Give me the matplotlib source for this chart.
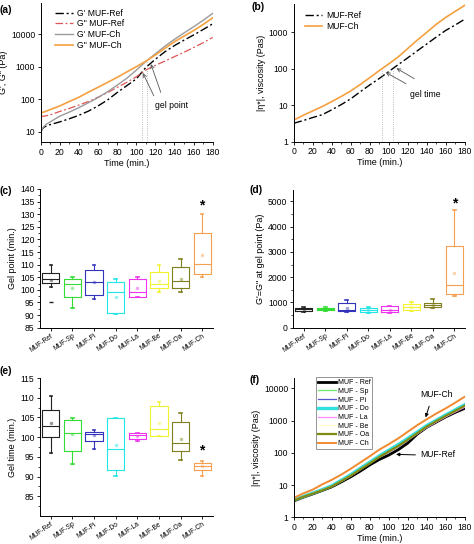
import matplotlib
matplotlib.use('Agg')
import matplotlib.pyplot as plt
from matplotlib.ticker import MultipleLocator, LogLocator, NullLocator, FixedLocator

plt.rcParams['font.family'] = ['Liberation Sans', 'DejaVu Sans']
plt.rcParams['font.size'] = 6.2
plt.rcParams['axes.linewidth'] = 0.7

# ---- panel (a): G', G" vs time
t_a = [0, 3, 6, 10, 20, 30, 40, 50, 60, 70, 80, 90, 100, 110, 120, 130, 140, 150, 160, 170, 180]
g1_ref = [10, 13.5, 15, 16.5, 20, 25, 32, 43, 62, 95, 160, 260, 420, 950, 1700, 2900, 4500, 6600, 9500, 14000, 21000]
g2_ref = [29, 30, 31, 33, 42, 52, 66, 85, 115, 160, 230, 330, 490, 790, 1100, 1500, 2050, 2800, 3900, 5500, 8000]
g1_ch = [10, 14, 17, 20, 30, 40, 55, 78, 112, 170, 270, 440, 780, 1450, 2500, 4300, 7000, 11000, 17000, 27000, 44000]
g2_ch = [38, 40, 43, 48, 62, 85, 115, 165, 233, 330, 470, 690, 1000, 1480, 2300, 3700, 5900, 8800, 13000, 20000, 32000]
gel_a = [105.7, 111.6]
gel_a_val = [680, 1500]

# ---- panel (b): complex viscosity, Ref and Ch
t = [0, 10, 20, 30, 40, 50, 60, 70, 80, 90, 100, 110, 120, 130, 140, 150, 160, 170, 180]
eta_ref_b = [3.2, 3.8, 4.6, 5.5, 7.5, 10.4, 15, 23.4, 36, 54, 84, 130, 200, 310, 480, 740, 1130, 1590, 2300]
eta_ch_b = [3.9, 5.3, 7.0, 9.2, 12.6, 17.4, 24.7, 37, 57, 89, 136, 212, 360, 610, 1000, 1660, 2570, 3770, 5500]
gel_b = [92.6, 104.2]
gel_b_val = [100, 100]

# ---- panel (f): viscosity, all formulations
eta_f = {
    'MUF - Ref': [3.2, 4.2, 5.3, 6.8, 8.8, 12.5, 18, 27, 42, 62, 85, 125, 200, 380, 620, 900, 1300, 1800, 2400],
    'MUF - Sp': [3.3, 4.3, 5.5, 7.0, 9.2, 13.5, 20, 31, 48, 75, 110, 165, 260, 420, 680, 1000, 1500, 2200, 3200],
    'MUF - Pi': [3.3, 4.3, 5.5, 7.0, 9.0, 13, 19, 30, 46, 72, 105, 155, 245, 390, 620, 920, 1350, 1900, 2700],
    'MUF - Do': [3.4, 4.4, 5.6, 7.2, 9.5, 14, 21, 33, 51, 80, 120, 180, 280, 440, 700, 1020, 1500, 2150, 3100],
    'MUF - La': [3.4, 4.4, 5.5, 7.0, 9.1, 13, 19, 30, 47, 73, 106, 157, 245, 385, 610, 900, 1300, 1850, 2600],
    'MUF - Be': [3.3, 4.3, 5.5, 7.1, 9.2, 13.5, 20, 31, 48, 75, 108, 160, 250, 400, 640, 940, 1380, 1950, 2800],
    'MUF - Oa': [3.3, 4.3, 5.4, 6.9, 9.0, 13.2, 19.5, 30.5, 47, 74, 110, 163, 255, 405, 650, 960, 1400, 2000, 2900],
    'MUF - Ch': [4.0, 5.5, 7.2, 10.5, 14.5, 21, 32, 50, 78, 125, 185, 280, 450, 720, 1100, 1650, 2400, 3600, 5500],
}
f_colors = ['black', '#66ee66', '#5555cc', '#33e0e0', '#ff88ff', '#ffffcc', '#7f8a10', '#f08a30']
f_widths = [2.0, 0.9, 0.9, 2.4, 0.9, 0.9, 1.6, 1.4]

# ---- box panels (c), (d), (e)
cats = ['MUF-Ref', 'MUF-Sp', 'MUF-Pi', 'MUF-Do', 'MUF-La', 'MUF-Be', 'MUF-Oa', 'MUF-Ch']
box_colors = ['#222222', '#33dd33', '#3333bb', '#22e5e5', '#ee33ee', '#f2f230', '#7f7f20', '#f5a050']

gp_lo = [101.2, 93, 96.2, 90.3, 97, 99.3, 99.3, 105.2]
gp_q1 = [102.6, 97, 98, 90.7, 97, 100.6, 100.6, 106.3]
gp_med = [104.3, 102.2, 103.1, 99, 99, 102.3, 103.6, 110.1]
gp_q3 = [106.5, 104.5, 107.8, 103, 104.4, 107, 109.2, 122.7]
gp_hi = [110, 105.2, 110, 104.2, 105.1, 110, 112.2, 130]
gp_mean = [104, 100.8, 103, 97.3, 100.6, 103.5, 104.5, 113.8]
gp_out = [[95.3], [], [], [], [], [], [], []]

gg_lo = [635, 660, 635, 595, 600, 661, 767, 1270]
gg_q1 = [661, 688, 661, 608, 608, 688, 820, 1323]
gg_med = [727, 740, 700, 700, 700, 833, 900, 1693]
gg_q3 = [794, 794, 992, 767, 847, 926, 992, 3240]
gg_hi = [833, 810, 1098, 820, 860, 1032, 1138, 4670]
gg_mean = [740, 745, 794, 700, 720, 800, 905, 2156]

gt_lo = [96.1, 93.2, 97.1, 90.2, 99.1, 100.2, 94.2, 90.2]
gt_q1 = [100, 96.6, 99, 91.7, 99.6, 100.4, 96.4, 91.7]
gt_med = [102.75, 101.1, 100.9, 97.1, 100.6, 102.1, 98.6, 92.75]
gt_q3 = [106.9, 104.4, 101.4, 104.8, 101, 107.9, 103.75, 93.5]
gt_hi = [110.4, 104.8, 101.9, 104.8, 101, 108.9, 106, 93.9]
gt_mean = [103.6, 100.7, 100.5, 98.1, 100.4, 103.5, 99.6, 92.6]

W, H = 474, 544
fig = plt.figure(figsize=(W / 100, H / 100), dpi=100)


def rect(x0, x1, ytop, ybot):
    return [x0 / W, 1 - ybot / H, (x1 - x0) / W, (ybot - ytop) / H]


def style(ax):
    ax.spines['top'].set_visible(False)
    ax.spines['right'].set_visible(False)
    ax.tick_params(direction='out', length=2.5, width=0.6, pad=1.5)
    ax.tick_params(which='minor', direction='out', length=1.5, width=0.5)


def time_axis(ax):
    ax.set_xlim(0, 180)
    ax.xaxis.set_major_locator(MultipleLocator(20))
    ax.xaxis.set_minor_locator(MultipleLocator(10))
    ax.set_xlabel('Time (min.)', fontsize=6.5, labelpad=1.5)


def log_axis(ax):
    ax.set_yscale('log')
    ax.yaxis.set_major_locator(LogLocator(base=10))
    ax.yaxis.set_minor_locator(NullLocator())
    ax.yaxis.set_major_formatter(plt.FuncFormatter(lambda v, p: '%d' % round(v)))


# (a)
ax = fig.add_axes(rect(40.7, 212.7, 2.7, 142))
style(ax)
ax.plot(t_a, g1_ref, color='black', lw=1.0, dashes=(6, 2, 1.5, 2), label="G' MUF-Ref")
ax.plot(t_a, g2_ref, color='#e05555', lw=0.9, dashes=(6, 2, 1.5, 2), label='G" MUF-Ref')
ax.plot(t_a, g1_ch, color='#9a9a9a', lw=1.0, label="G' MUF-Ch")
ax.plot(t_a, g2_ch, color='#f5a040', lw=1.2, label='G" MUF-Ch')
time_axis(ax)
log_axis(ax)
ax.set_ylim(4.8, 94000)
for x, v in zip(gel_a, gel_a_val):
    ax.plot([x, x], [4.8, v], color='#aaaaaa', lw=0.6, ls=':')
ax.text(119.6, 62, 'gel point', fontsize=6.2, va='center', ha='left')
ax.annotate('', xy=(105.7, 760), xytext=(119.6, 107),
            arrowprops=dict(arrowstyle='->', color='#555555', lw=0.6))
ax.annotate('', xy=(114.4, 1450), xytext=(126.6, 135),
            arrowprops=dict(arrowstyle='->', color='#555555', lw=0.6))
ax.set_ylabel("G', G\" (Pa)", fontsize=6.5, labelpad=2)
ax.legend(loc='upper left', bbox_to_anchor=(0.05, 1.0), frameon=False, fontsize=6.2,
          handlelength=2.0, handletextpad=0.5, labelspacing=0.2, borderpad=0.2)
fig.text(0.0, 1 - 10 / H, '(a)', fontsize=7.5, fontweight='bold', va='center')

# (b)
ax = fig.add_axes(rect(293.7, 464.7, 4, 141.7))
style(ax)
ax.plot(t, eta_ref_b, color='black', lw=1.0, dashes=(6, 2, 1.5, 2), label='MUF-Ref')
ax.plot(t, eta_ch_b, color='#f5a040', lw=1.2, label='MUF-Ch')
time_axis(ax)
log_axis(ax)
ax.set_ylim(1, 6000)
for x, v in zip(gel_b, gel_b_val):
    ax.plot([x, x], [1, v], color='#aaaaaa', lw=0.6, ls=':')
ax.text(122.6, 20, 'gel time', fontsize=6.2, va='center', ha='left')
ax.annotate('', xy=(94.3, 87), xytext=(120.6, 36),
            arrowprops=dict(arrowstyle='->', color='#555555', lw=0.6))
ax.annotate('', xy=(105.6, 113), xytext=(129.5, 49),
            arrowprops=dict(arrowstyle='->', color='#555555', lw=0.6))
ax.set_ylabel('|η*|, viscosity (Pas)', fontsize=6.5, labelpad=2)
ax.legend(loc='upper left', bbox_to_anchor=(0.03, 0.99), frameon=False, fontsize=6.2,
          handlelength=2.0, handletextpad=0.5, labelspacing=0.2, borderpad=0.2)
fig.text(252 / W, 1 - 7 / H, '(b)', fontsize=7.5, fontweight='bold', va='center')


def boxes(ax, lo, q1, med, q3, hi, mean, out=None):
    for i in range(len(cats)):
        st = dict(whislo=lo[i], q1=q1[i], med=med[i], q3=q3[i], whishi=hi[i],
                  mean=mean[i], fliers=(out[i] if out else []))
        c = box_colors[i]
        ax.bxp([st], positions=[i], widths=0.8, showmeans=True, showfliers=True,
               capwidths=0.12, manage_ticks=False,
               boxprops=dict(color=c, lw=0.8),
               whiskerprops=dict(color=c, lw=0.8),
               capprops=dict(color=c, lw=1.2),
               medianprops=dict(color=c, lw=0.8),
               meanprops=dict(marker='s', markersize=1.6, markerfacecolor=c,
                              markeredgecolor=c, alpha=0.35),
               flierprops=dict(marker='_', markersize=2.5, markeredgecolor=c))
    ax.set_xlim(-0.5, 7.5)
    ax.set_xticks(range(len(cats)))
    ax.set_xticklabels(cats, rotation=35, ha='right', rotation_mode='anchor', fontsize=4.8)
    ax.tick_params(axis='x', pad=0.8)


# (c)
ax = fig.add_axes(rect(40, 213, 189, 327.7))
style(ax)
boxes(ax, gp_lo, gp_q1, gp_med, gp_q3, gp_hi, gp_mean, gp_out)
ax.set_ylim(85, 140)
ax.yaxis.set_major_locator(MultipleLocator(5))
ax.yaxis.set_minor_locator(MultipleLocator(2.5))
ax.text(7, 133.4, '*', fontsize=10, ha='center', va='center', fontweight='bold')
ax.set_ylabel('Gel point (min.)', fontsize=6.5, labelpad=2)
fig.text(0.0, 1 - 191 / H, '(c)', fontsize=7.5, fontweight='bold', va='center')

# (d)
ax = fig.add_axes(rect(293, 465, 190, 327.7))
style(ax)
boxes(ax, gg_lo, gg_q1, gg_med, gg_q3, gg_hi, gg_mean)
ax.set_ylim(0, 5450)
ax.yaxis.set_major_locator(MultipleLocator(1000))
ax.yaxis.set_minor_locator(MultipleLocator(500))
ax.text(7, 4934, '*', fontsize=10, ha='center', va='center', fontweight='bold')
ax.set_ylabel('G\'=G" at gel point (Pa)', fontsize=6.5, labelpad=2)
fig.text(250 / W, 1 - 190 / H, '(d)', fontsize=7.5, fontweight='bold', va='center')

# (e)
ax = fig.add_axes(rect(40, 213, 378, 516))
style(ax)
boxes(ax, gt_lo, gt_q1, gt_med, gt_q3, gt_hi, gt_mean)
ax.set_ylim(80, 115)
ax.yaxis.set_major_locator(FixedLocator([85, 90, 95, 100, 105, 110, 115]))
ax.yaxis.set_minor_locator(FixedLocator([82.5, 87.5, 92.5, 97.5, 102.5, 107.5, 112.5]))
ax.text(7, 96.7, '*', fontsize=10, ha='center', va='center', fontweight='bold')
ax.set_ylabel('Gel time (min.)', fontsize=6.5, labelpad=2)
fig.text(0.0, 1 - 371 / H, '(e)', fontsize=7.5, fontweight='bold', va='center')

# (f)
ax = fig.add_axes(rect(293.7, 464.7, 378, 517.3))
style(ax)
for (name, vals), c, lw in zip(eta_f.items(), f_colors, f_widths):
    ax.plot(t, vals, color=c, lw=lw, label=name)
time_axis(ax)
log_axis(ax)
ax.set_ylim(1, 21000)
ax.text(150.5, 6650, 'MUF-Ch', fontsize=6.2, ha='center', va='center')
ax.annotate('', xy=(138, 1040), xytext=(143.5, 3400),
            arrowprops=dict(arrowstyle='-|>', color='black', lw=0.7, mutation_scale=5))
ax.text(133, 86, 'MUF-Ref', fontsize=6.2, ha='left', va='center')
ax.annotate('', xy=(104.8, 90), xytext=(131, 86),
            arrowprops=dict(arrowstyle='-|>', color='black', lw=0.7, mutation_scale=5))
ax.set_ylabel('|η*|, viscosity (Pas)', fontsize=6.5, labelpad=2)
leg = ax.legend(loc='upper left', bbox_to_anchor=(0.11, 1.03), frameon=True, fontsize=5.0,
                handlelength=2.6, handletextpad=0.3, labelspacing=0.25, borderpad=0.25,
                fancybox=False, edgecolor='#444444')
leg.get_frame().set_linewidth(0.5)
fig.text(250 / W, 1 - 380 / H, '(f)', fontsize=7.5, fontweight='bold', va='center')

fig.savefig('out.png', dpi=100)
